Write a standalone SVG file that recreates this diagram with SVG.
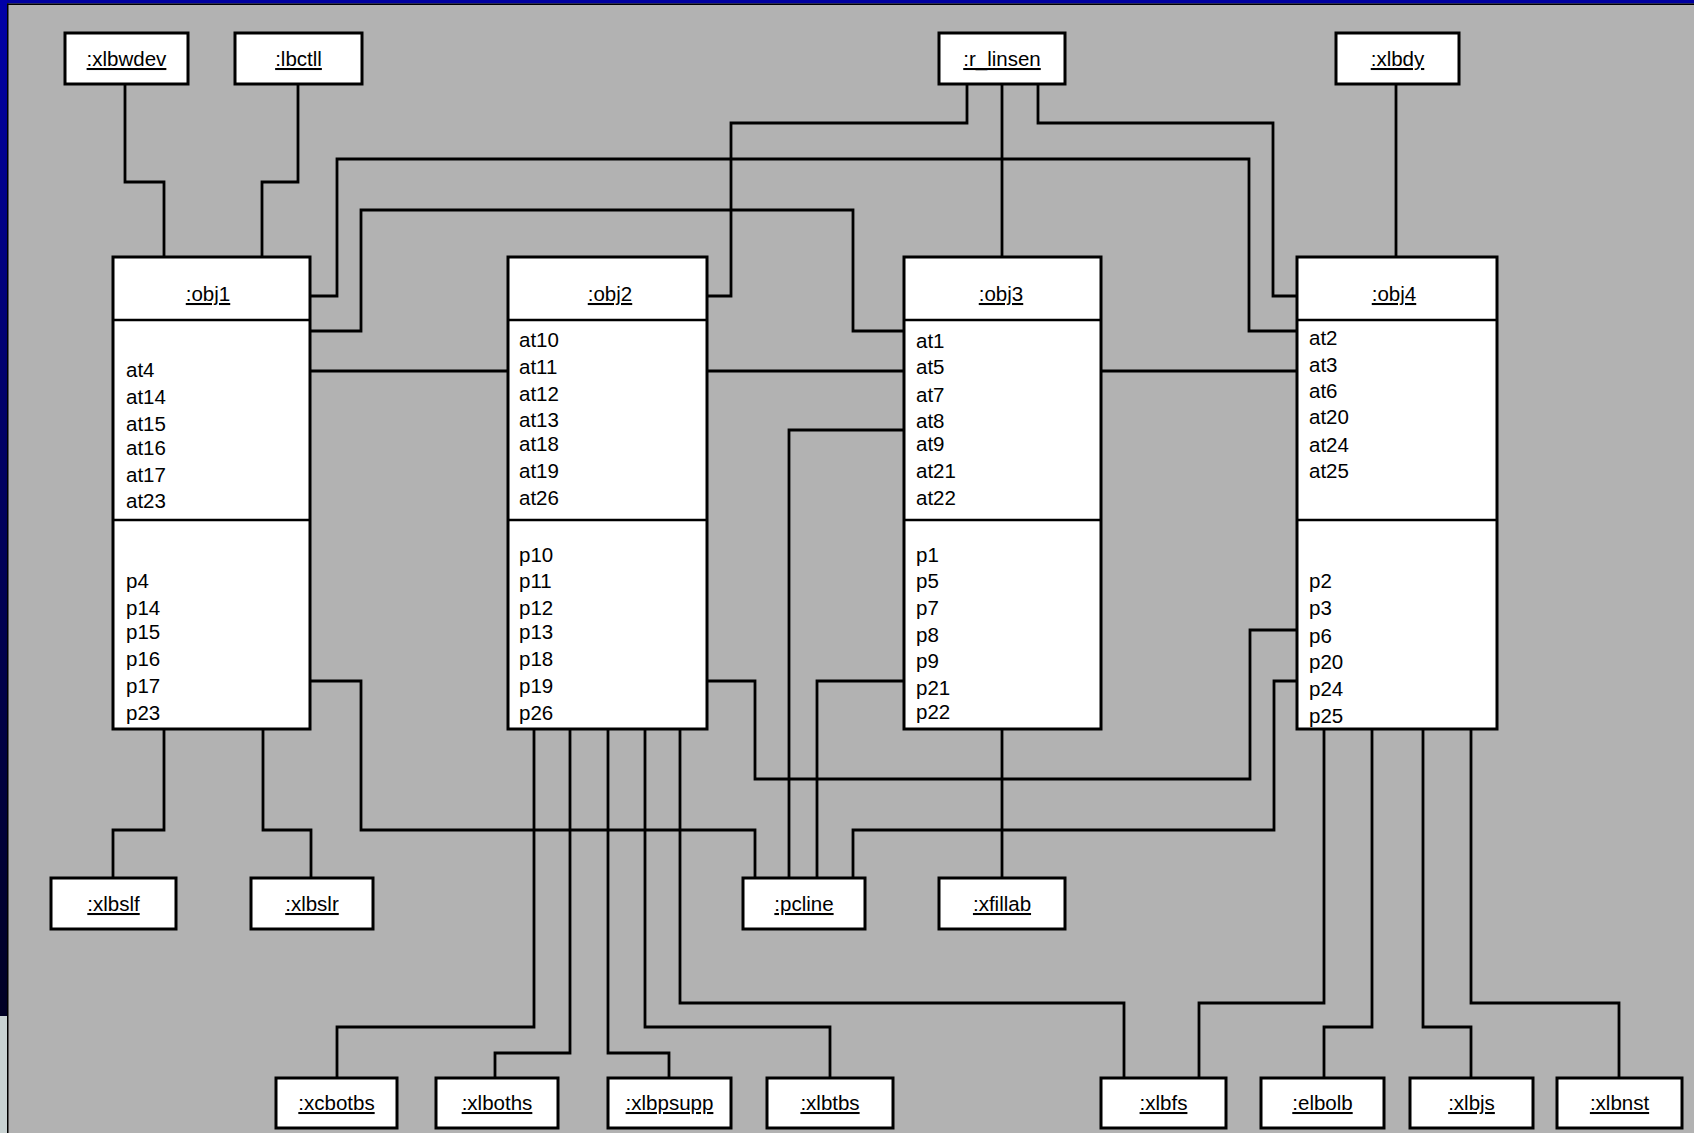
<svg xmlns="http://www.w3.org/2000/svg" width="1694" height="1133" viewBox="0 0 1694 1133">
<defs>
<linearGradient id="edge" x1="0" y1="0" x2="0" y2="1">
<stop offset="0" stop-color="#0000a8"/>
<stop offset="0.35" stop-color="#00006a"/>
<stop offset="0.8" stop-color="#000030"/>
<stop offset="1" stop-color="#000018"/>
</linearGradient>
<style>
.box{fill:#fff;stroke:#000;stroke-width:3}
.div{stroke:#000;stroke-width:2.5}
.lbl{font-family:"Liberation Sans",Arial,sans-serif;font-size:20.5px;fill:#000;text-anchor:middle;text-decoration:underline}
.item{font-family:"Liberation Sans",Arial,sans-serif;font-size:20.5px;fill:#000}
#connectors path{fill:none;stroke:#000;stroke-width:2.8}
</style>
</defs>
<rect x="0" y="0" width="1694" height="1133" fill="#b2b2b2"/>
<rect x="0" y="0" width="1694" height="3.5" fill="#0000a0"/>
<rect x="0" y="3.5" width="1694" height="1.5" fill="#000"/>
<rect x="0" y="0" width="7" height="1133" fill="url(#edge)"/>
<rect x="0" y="1016" width="7" height="117" fill="#c9d3d3"/>
<rect x="7" y="3.5" width="1.5" height="1130" fill="#000"/>

<g id="connectors">
<path d="M125,84 V182 H164 V257"/>
<path d="M298,84 V182 H262 V257"/>
<path d="M1396,84 V257"/>
<path d="M1002,84 V257"/>
<path d="M967,84 V123 H731 V296 H707"/>
<path d="M1038,84 V123 H1273 V296 H1297"/>
<path d="M310,296 H337 V159 H1249 V331 H1297"/>
<path d="M310,331 H361 V210 H853 V331 H904"/>
<path d="M310,371 H508"/>
<path d="M707,371 H904"/>
<path d="M1101,371 H1297"/>
<path d="M904,430 H789 V878"/>
<path d="M904,681 H817 V878"/>
<path d="M707,681 H755 V779 H1250 V630 H1297"/>
<path d="M310,681 H361 V830 H755 V878"/>
<path d="M1297,681 H1274 V830 H853 V878"/>
<path d="M1002,729 V878"/>
<path d="M164,729 V830 H113 V878"/>
<path d="M263,729 V830 H311 V878"/>
<path d="M534,729 V1027 H337 V1078"/>
<path d="M570,729 V1053 H495 V1078"/>
<path d="M608,729 V1053 H669 V1078"/>
<path d="M645,729 V1027 H830 V1078"/>
<path d="M680,729 V1003 H1124 V1078"/>
<path d="M1324,729 V1003 H1199 V1078"/>
<path d="M1372,729 V1027 H1324 V1078"/>
<path d="M1423,729 V1027 H1471 V1078"/>
<path d="M1471,729 V1003 H1619 V1078"/>
</g>

<g id="xlbwdev"><rect class="box" x="65" y="33" width="123" height="51"/><text class="lbl" x="126.5" y="66">:xlbwdev</text></g>
<g id="lbctll"><rect class="box" x="235" y="33" width="127" height="51"/><text class="lbl" x="298.5" y="66">:lbctll</text></g>
<g id="r_linsen"><rect class="box" x="939" y="33" width="126" height="51"/><text class="lbl" x="1002" y="66">:r_linsen</text></g>
<g id="xlbdy"><rect class="box" x="1336" y="33" width="123" height="51"/><text class="lbl" x="1397.5" y="66">:xlbdy</text></g>

<g id="obj1">
<rect class="box" x="113" y="257" width="197" height="472"/>
<line class="div" x1="113" y1="320" x2="310" y2="320"/>
<line class="div" x1="113" y1="520" x2="310" y2="520"/>
<text class="lbl" x="208" y="301">:obj1</text>
<text class="item" x="126" y="377">at4</text>
<text class="item" x="126" y="404">at14</text>
<text class="item" x="126" y="431">at15</text>
<text class="item" x="126" y="455">at16</text>
<text class="item" x="126" y="482">at17</text>
<text class="item" x="126" y="508">at23</text>
<text class="item" x="126" y="588">p4</text>
<text class="item" x="126" y="615">p14</text>
<text class="item" x="126" y="639">p15</text>
<text class="item" x="126" y="666">p16</text>
<text class="item" x="126" y="693">p17</text>
<text class="item" x="126" y="720">p23</text>
</g>

<g id="obj2">
<rect class="box" x="508" y="257" width="199" height="472"/>
<line class="div" x1="508" y1="320" x2="707" y2="320"/>
<line class="div" x1="508" y1="520" x2="707" y2="520"/>
<text class="lbl" x="610" y="301">:obj2</text>
<text class="item" x="519" y="347">at10</text>
<text class="item" x="519" y="374">at11</text>
<text class="item" x="519" y="401">at12</text>
<text class="item" x="519" y="427">at13</text>
<text class="item" x="519" y="451">at18</text>
<text class="item" x="519" y="478">at19</text>
<text class="item" x="519" y="505">at26</text>
<text class="item" x="519" y="562">p10</text>
<text class="item" x="519" y="588">p11</text>
<text class="item" x="519" y="615">p12</text>
<text class="item" x="519" y="639">p13</text>
<text class="item" x="519" y="666">p18</text>
<text class="item" x="519" y="693">p19</text>
<text class="item" x="519" y="720">p26</text>
</g>

<g id="obj3">
<rect class="box" x="904" y="257" width="197" height="472"/>
<line class="div" x1="904" y1="320" x2="1101" y2="320"/>
<line class="div" x1="904" y1="520" x2="1101" y2="520"/>
<text class="lbl" x="1001" y="301">:obj3</text>
<text class="item" x="916" y="348">at1</text>
<text class="item" x="916" y="374">at5</text>
<text class="item" x="916" y="402">at7</text>
<text class="item" x="916" y="428">at8</text>
<text class="item" x="916" y="451">at9</text>
<text class="item" x="916" y="478">at21</text>
<text class="item" x="916" y="505">at22</text>
<text class="item" x="916" y="562">p1</text>
<text class="item" x="916" y="588">p5</text>
<text class="item" x="916" y="615">p7</text>
<text class="item" x="916" y="642">p8</text>
<text class="item" x="916" y="668">p9</text>
<text class="item" x="916" y="695">p21</text>
<text class="item" x="916" y="719">p22</text>
</g>

<g id="obj4">
<rect class="box" x="1297" y="257" width="200" height="472"/>
<line class="div" x1="1297" y1="320" x2="1497" y2="320"/>
<line class="div" x1="1297" y1="520" x2="1497" y2="520"/>
<text class="lbl" x="1394" y="301">:obj4</text>
<text class="item" x="1309" y="345">at2</text>
<text class="item" x="1309" y="372">at3</text>
<text class="item" x="1309" y="398">at6</text>
<text class="item" x="1309" y="424">at20</text>
<text class="item" x="1309" y="452">at24</text>
<text class="item" x="1309" y="478">at25</text>
<text class="item" x="1309" y="588">p2</text>
<text class="item" x="1309" y="615">p3</text>
<text class="item" x="1309" y="643">p6</text>
<text class="item" x="1309" y="669">p20</text>
<text class="item" x="1309" y="696">p24</text>
<text class="item" x="1309" y="723">p25</text>
</g>

<g id="xlbslf"><rect class="box" x="51" y="878" width="125" height="51"/><text class="lbl" x="113.5" y="911">:xlbslf</text></g>
<g id="xlbslr"><rect class="box" x="251" y="878" width="122" height="51"/><text class="lbl" x="312" y="911">:xlbslr</text></g>
<g id="pcline"><rect class="box" x="743" y="878" width="122" height="51"/><text class="lbl" x="804" y="911">:pcline</text></g>
<g id="xfillab"><rect class="box" x="939" y="878" width="126" height="51"/><text class="lbl" x="1002" y="911">:xfillab</text></g>

<g id="xcbotbs"><rect class="box" x="276" y="1078" width="121" height="50"/><text class="lbl" x="336.5" y="1110">:xcbotbs</text></g>
<g id="xlboths"><rect class="box" x="436" y="1078" width="122" height="50"/><text class="lbl" x="497" y="1110">:xlboths</text></g>
<g id="xlbpsupp"><rect class="box" x="608" y="1078" width="123" height="50"/><text class="lbl" x="669.5" y="1110">:xlbpsupp</text></g>
<g id="xlbtbs"><rect class="box" x="767" y="1078" width="126" height="50"/><text class="lbl" x="830" y="1110">:xlbtbs</text></g>
<g id="xlbfs"><rect class="box" x="1101" y="1078" width="125" height="50"/><text class="lbl" x="1163.5" y="1110">:xlbfs</text></g>
<g id="elbolb"><rect class="box" x="1261" y="1078" width="123" height="50"/><text class="lbl" x="1322.5" y="1110">:elbolb</text></g>
<g id="xlbjs"><rect class="box" x="1410" y="1078" width="123" height="50"/><text class="lbl" x="1471.5" y="1110">:xlbjs</text></g>
<g id="xlbnst"><rect class="box" x="1557" y="1078" width="125" height="50"/><text class="lbl" x="1619.5" y="1110">:xlbnst</text></g>
</svg>
